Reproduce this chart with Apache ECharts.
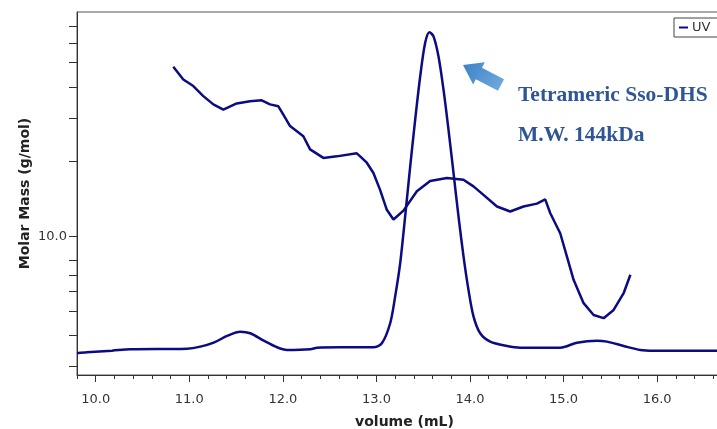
<!DOCTYPE html>
<html>
<head>
<meta charset="utf-8">
<script src="https://cdn.jsdelivr.net/npm/echarts@6/dist/echarts.min.js"></script>
<style>
  html, body { margin: 0; padding: 0; background: #fff; }
  #chart { width: 717px; height: 429px; }
</style>
</head>
<body>
<div id="chart"></div>
<script>
// UV trace, arbitrary units (0 - 100 of full plot height)
const uvVolume = [9.8, 9.906, 10.173, 10.369, 10.975, 11.118, 11.261, 11.403, 11.545, 11.652, 11.796, 11.938, 12.045, 12.294, 12.366, 12.612, 12.968, 13.058, 13.147, 13.2, 13.254, 13.307, 13.361, 13.414, 13.468, 13.521, 13.567, 13.61, 13.663, 13.717, 13.77, 13.824, 13.877, 13.931, 13.984, 14.038, 14.109, 14.216, 14.395, 14.537, 14.964, 15.143, 15.357, 15.464, 15.642, 15.82, 15.963, 16.8]
const uvSignal = [6.0, 6.26, 6.7, 7.09, 7.26, 7.81, 8.91, 10.76, 11.94, 11.5, 9.46, 7.64, 6.9, 7.09, 7.53, 7.64, 7.64, 8.74, 14.26, 21.6, 30.8, 43.7, 57.5, 70.3, 82.3, 91.5, 94.4, 93.3, 87.8, 78.6, 67.6, 55.6, 43.7, 32.6, 23.4, 16.1, 11.5, 9.19, 8.0, 7.53, 7.53, 8.91, 9.46, 9.19, 8.0, 6.9, 6.7, 6.7]

// molar mass readout (log axis)
const massVolume = [10.829, 10.936, 11.043, 11.15, 11.257, 11.364, 11.507, 11.649, 11.774, 11.863, 11.952, 12.005, 12.077, 12.219, 12.291, 12.433, 12.576, 12.79, 12.826, 12.897, 12.968, 13.039, 13.111, 13.182, 13.289, 13.432, 13.574, 13.753, 13.93, 14.037, 14.144, 14.288, 14.43, 14.572, 14.715, 14.804, 14.858, 14.964, 15.036, 15.107, 15.214, 15.321, 15.428, 15.535, 15.642, 15.714]
const molarMass = [48.2, 42.8, 40.3, 36.7, 34.0, 32.4, 34.3, 35.0, 35.3, 34.0, 33.4, 30.9, 27.8, 25.3, 22.4, 20.7, 21.0, 21.6, 21.0, 19.8, 18.0, 15.4, 12.8, 11.7, 12.7, 15.2, 16.7, 17.2, 16.9, 15.9, 14.7, 13.2, 12.6, 13.2, 13.55, 14.1, 12.4, 10.3, 8.3, 6.69, 5.39, 4.83, 4.69, 5.06, 5.91, 7.01]

const xTickLabels = [10, 11, 12, 13, 14, 15, 16]
const yTickValues = [3, 4, 5, 6, 7, 8, 10, 20, 30, 40, 50, 60, 70]
const yLabelValues = [10]

const lineColor = '#0b0b82'
const axisColor = '#333'
const noteColor = '#2f5597'

// block arrow next to the peak, pointing up-left
const arrowPoints = () => {
  const tip = [463, 65]
  const tail = [501, 85]
  const len = Math.hypot(tip[0] - tail[0], tip[1] - tail[1])
  const d = [(tip[0] - tail[0]) / len, (tip[1] - tail[1]) / len]
  const n = [-d[1], d[0]]
  const at = (dist, off) => [tip[0] - d[0] * dist + n[0] * off, tip[1] - d[1] * dist + n[1] * off]
  return [tip, at(18, 12.5), at(18, 6.5), at(len, 6.5), at(len, -6.5), at(18, -6.5), at(18, -12.5)]
}

const chart = echarts.init(document.getElementById('chart'))

const option = {
  animation: false,
  backgroundColor: '#fff',
  textStyle: { fontFamily: 'DejaVu Sans' },
  legend: {
    data: ['UV'],
    left: 674,
    top: 18,
    orient: 'horizontal',
    borderColor: '#444',
    borderWidth: 1,
    padding: [3, 12, 3, 5],
    itemWidth: 9,
    itemHeight: 2,
    itemGap: 4,
    icon: 'rect',
    textStyle: { color: '#333', fontSize: 13, padding: [0, 0, 0, -1] }
  },
  grid: {
    left: 77,
    right: -15,
    top: 12,
    bottom: 54,
    outerBoundsMode: 'none',
    containLabel: false,
    show: true,
    borderColor: '#555',
    borderWidth: 1,
    backgroundColor: '#fff'
  },
  xAxis: [
    {
      type: 'value',
      min: 9.8,
      max: 16.8,
      interval: 0.2,
      axisLine: { show: true, onZero: false, lineStyle: { color: axisColor, width: 1 } },
      axisTick: { show: true, length: 4, lineStyle: { color: axisColor } },
      axisLabel: { show: false },
      splitLine: { show: false },
      name: 'volume (mL)',
      nameLocation: 'middle',
      nameGap: 40,
      nameTextStyle: { fontSize: 14, fontWeight: 'bold', color: '#222' }
    },
    {
      type: 'value',
      min: 9.8,
      max: 16.8,
      position: 'bottom',
      axisLine: { show: false, onZero: false },
      axisTick: { show: true, length: 7, customValues: xTickLabels, lineStyle: { color: axisColor } },
      axisLabel: {
        show: true,
        customValues: xTickLabels,
        formatter: v => v.toFixed(1),
        color: '#333',
        fontSize: 13,
        margin: 18
      },
      splitLine: { show: false }
    }
  ],
  yAxis: [
    {
      type: 'value',
      min: Math.log10(2.77),
      max: Math.log10(80),
      axisLine: { show: true, onZero: false, lineStyle: { color: axisColor, width: 1 } },
      axisTick: { show: true, length: 8, customValues: yTickValues.map(v => Math.log10(v)), lineStyle: { color: axisColor } },
      axisLabel: {
        show: true,
        customValues: yLabelValues.map(v => Math.log10(v)),
        formatter: v => Math.pow(10, v).toFixed(1),
        color: '#333',
        fontSize: 13,
        margin: 10
      },
      splitLine: { show: false },
      name: 'Molar Mass (g/mol)',
      nameLocation: 'middle',
      nameGap: 45,
      nameMoveOverlap: false,
      nameTextStyle: { fontSize: 14, fontWeight: 'bold', color: '#222' }
    },
    {
      type: 'value',
      min: 0,
      max: 100,
      show: false
    }
  ],
  series: [
    {
      name: 'Molar Mass',
      type: 'line',
      xAxisIndex: 0,
      yAxisIndex: 0,
      data: massVolume.map((v, i) => [v, Math.log10(molarMass[i])]),
      showSymbol: false,
      lineStyle: { color: lineColor, width: 2.5 },
      itemStyle: { color: lineColor }
    },
    {
      name: 'UV',
      type: 'line',
      xAxisIndex: 0,
      yAxisIndex: 1,
      data: uvVolume.map((v, i) => [v, uvSignal[i]]),
      smooth: 0.3,
      showSymbol: false,
      lineStyle: { color: lineColor, width: 2.5 },
      itemStyle: { color: lineColor }
    }
  ],
  graphic: [
    {
      type: 'polygon',
      shape: { points: arrowPoints() },
      style: {
        fill: new echarts.graphic.LinearGradient(0, 0, 1, 1, [
          { offset: 0, color: '#3b82c8' },
          { offset: 1, color: '#74acdf' }
        ])
      },
      z: 10
    },
    {
      type: 'text',
      x: 518,
      y: 95,
      style: {
        text: 'Tetrameric Sso-DHS',
        fill: noteColor,
        font: 'bold 21.5px "Liberation Serif"',
        verticalAlign: 'middle'
      },
      z: 10
    },
    {
      type: 'text',
      x: 518,
      y: 135,
      style: {
        text: 'M.W. 144kDa',
        fill: noteColor,
        font: 'bold 21.5px "Liberation Serif"',
        verticalAlign: 'middle'
      },
      z: 10
    }
  ]
}

chart.setOption(option)
</script>
</body>
</html>
